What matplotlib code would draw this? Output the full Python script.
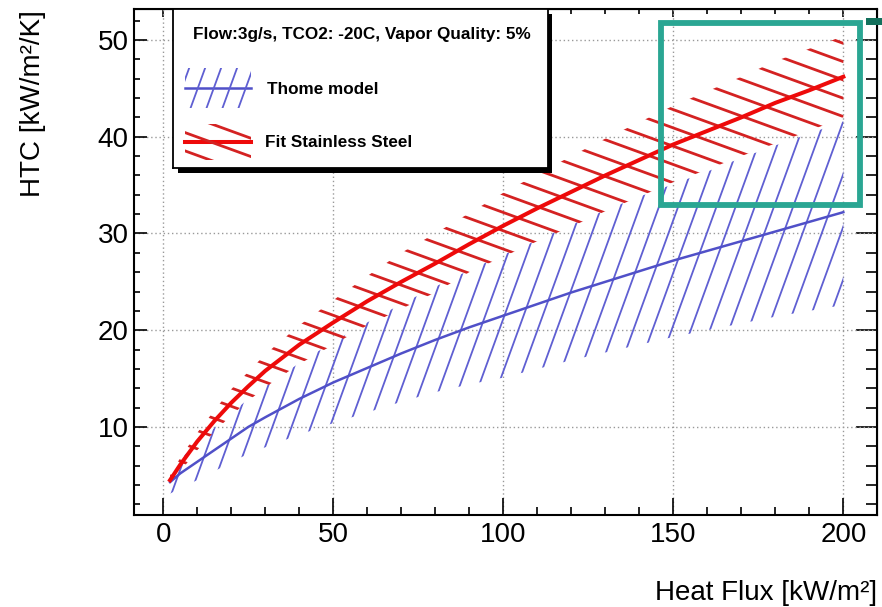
import numpy as np
import matplotlib.pyplot as plt
from matplotlib.collections import LineCollection
from matplotlib.patches import Rectangle
from matplotlib.ticker import MultipleLocator

plt.rcParams['font.family'] = ['Liberation Sans', 'DejaVu Sans']

# values
heat_flux = [2, 5, 10, 15, 20, 25, 30, 40, 50, 60, 70, 80, 90, 100,
             110, 120, 130, 140, 150, 160, 170, 180, 190, 200]

thome_htc = [4.3, 5.2, 6.4, 7.6, 8.8, 10.0, 11.0, 12.9, 14.6, 16.1, 17.6, 19.0, 20.3, 21.5,
             22.7, 23.9, 25.0, 26.1, 27.2, 28.2, 29.2, 30.2, 31.2, 32.2]
thome_low = [3.1, 3.7, 4.5, 5.4, 6.4, 7.2, 7.9, 9.2, 10.4, 11.5, 12.6, 13.6, 14.4, 15.1,
             16.0, 16.9, 17.7, 18.5, 19.3, 20.0, 20.7, 21.4, 22.0, 22.6]
thome_high = [5.5, 6.7, 8.3, 9.9, 11.4, 12.9, 14.2, 16.6, 18.8, 20.8, 22.7, 24.5, 26.2, 27.8,
              29.3, 30.9, 32.4, 33.8, 35.1, 36.4, 37.8, 39.1, 40.3, 41.6]

fit_htc = [4.5, 6.1, 8.5, 10.6, 12.5, 14.2, 15.8, 18.5, 20.8, 23.0, 25.0, 26.9, 28.9, 30.8,
           32.6, 34.3, 36.0, 37.6, 39.2, 40.6, 42.0, 43.5, 44.8, 46.2]
fit_low = [4.0, 5.4, 7.6, 9.5, 11.2, 12.7, 14.1, 16.5, 18.5, 20.5, 22.2, 23.9, 26.0, 27.6,
           29.2, 30.7, 32.3, 33.8, 35.3, 36.6, 38.0, 39.3, 40.6, 42.0]
fit_high = [5.0, 6.8, 9.4, 11.7, 13.9, 15.7, 17.5, 20.5, 23.1, 25.6, 28.0, 30.0, 32.1, 34.2,
            36.1, 38.0, 39.8, 41.5, 43.2, 44.7, 46.2, 47.8, 49.1, 50.4]

header = 'Flow:3g/s, TCO2: -20C, Vapor Quality: 5%'
labels = ['Thome model', 'Fit Stainless Steel']

BLUE = '#5f5fd2'
BLUE_LINE = '#5050c8'
RED = '#d42222'
RED_LINE = '#ee0a0a'


def hatch(ax, path, angle, spacing, color, lw, phase=0.0):
    """Parallel lines at a screen angle, clipped to path (data coords)."""
    W, H = ax.bbox.width, ax.bbox.height
    t = np.radians(angle)
    u = np.array([np.cos(t), np.sin(t)])
    n = np.array([-np.sin(t), np.cos(t)])
    corners = np.array([[0, 0], [W, 0], [0, H], [W, H]])
    proj = corners @ n
    k = np.arange(np.floor(proj.min() / spacing) - 1, np.ceil(proj.max() / spacing) + 2)
    L = W + H
    segs = []
    for o in k * spacing + phase:
        a = o * n - L * u
        b = o * n + L * u
        segs.append([(a[0] / W, a[1] / H), (b[0] / W, b[1] / H)])
    lc = LineCollection(segs, colors=color, linewidths=lw, transform=ax.transAxes,
                        capstyle='round', zorder=3)
    ax.add_collection(lc, autolim=False)
    lc.set_clip_path(path, ax.transData)
    return lc


fig = plt.figure(figsize=(8.82, 6.07), dpi=100)
ax = fig.add_axes([134 / 882, 1 - 515 / 607, (877 - 134) / 882, (515 - 9) / 607])
ax.set_xlim(-8.6, 209.9)
ax.set_ylim(0.9, 53.2)

blue_band = ax.fill_between(heat_flux, thome_low, thome_high, facecolor='none', edgecolor='none')
red_band = ax.fill_between(heat_flux, fit_low, fit_high, facecolor='none', edgecolor='none')
hatch(ax, blue_band.get_paths()[0], 70, 18.0, BLUE, 1.3, 8.1)
hatch(ax, red_band.get_paths()[0], -20, 17.2, RED, 2.0, 15.0)
ax.plot(heat_flux, thome_htc, color=BLUE_LINE, lw=1.8, zorder=4)
ax.plot(heat_flux, fit_htc, color=RED_LINE, lw=2.9, zorder=5)

ax.grid(True, which='major', color='#999999', linestyle=(0, (1, 2)), lw=1.0)
ax.set_axisbelow(True)
ax.xaxis.set_major_locator(MultipleLocator(50))
ax.xaxis.set_minor_locator(MultipleLocator(10))
ax.yaxis.set_major_locator(MultipleLocator(10))
ax.yaxis.set_minor_locator(MultipleLocator(2))
ax.tick_params(which='both', direction='in', labelsize=20, width=1.2, top=False, right=False)
ax.tick_params(axis='x', which='major', length=12, pad=5)
ax.tick_params(axis='x', which='minor', length=6)
ax.tick_params(axis='y', which='major', length=9, pad=4)
ax.tick_params(axis='y', which='minor', length=4.5)
for s in ax.spines.values():
    s.set_linewidth(1.5)

top = ax.secondary_xaxis('top')
top.xaxis.set_major_locator(MultipleLocator(50))
top.xaxis.set_minor_locator(MultipleLocator(10))
top.tick_params(which='both', direction='in', labeltop=False, width=1.2)
top.tick_params(which='major', length=6)
top.tick_params(which='minor', length=3.5)
right = ax.secondary_yaxis('right')
right.yaxis.set_major_locator(MultipleLocator(10))
right.yaxis.set_minor_locator(MultipleLocator(2))
right.tick_params(which='both', direction='in', labelright=False, width=1.2)
right.tick_params(which='major', length=15)
right.tick_params(which='minor', length=8)

fig.text(33 / 882, 1 - 10 / 607, 'HTC [kW/m²/K]', rotation=90, ha='center', va='top', fontsize=20)
fig.text(877 / 882, 1 - 600 / 607, 'Heat Flux [kW/m²]', ha='right', va='baseline', fontsize=20)

# legend box with shadow
fig.patches.append(Rectangle((178 / 882, 1 - 173 / 607), (552 - 178) / 882, (173 - 14) / 607,
                             transform=fig.transFigure, facecolor='black', edgecolor='none', zorder=2))
lax = fig.add_axes([173 / 882, 1 - 168 / 607, (548 - 173) / 882, (168 - 9) / 607], zorder=3)
lax.set_xlim(173, 548)
lax.set_ylim(168, 9)
lax.set_xticks([])
lax.set_yticks([])
for s in lax.spines.values():
    s.set_linewidth(1.3)
lax.text(362, 34, header, ha='center', va='center', fontsize=12.3, fontweight='bold')
lax.text(267, 89, labels[0], ha='left', va='center', fontsize=12.3, fontweight='bold')
lax.text(265, 143, labels[1], ha='left', va='center', fontsize=12.3, fontweight='bold')

sym_blue = Rectangle((185, 68), 66, 40)
sym_red = Rectangle((185, 124), 66, 36)
hatch(lax, sym_blue.get_path().transformed(sym_blue.get_patch_transform()), 70, 15.0, BLUE, 1.3, 4)
hatch(lax, sym_red.get_path().transformed(sym_red.get_patch_transform()), -20, 17.2, RED, 2.0, 3)
lax.plot([185, 251], [88, 88], color=BLUE_LINE, lw=1.8)
lax.plot([185, 251], [142, 142], color=RED_LINE, lw=2.9)

# highlight box
fig.patches.append(Rectangle((661 / 882, 1 - 204.5 / 607), (859.5 - 661) / 882, (204.5 - 22.5) / 607,
                             transform=fig.transFigure, facecolor='none', edgecolor='#2aa693',
                             lw=4.2, zorder=4))
fig.patches.append(Rectangle((866 / 882, 1 - 25 / 607), 16 / 882, 7 / 607,
                             transform=fig.transFigure, facecolor='#13705c', edgecolor='none', zorder=4))

fig.savefig('out.png', dpi=100)
